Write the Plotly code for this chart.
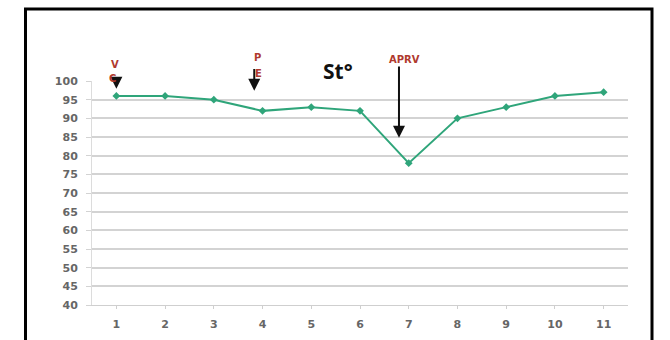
import plotly.graph_objects as go

# Readings over time
steps = [1, 2, 3, 4, 5, 6, 7, 8, 9, 10, 11]
saturation = [96, 96, 95, 92, 93, 92, 78, 90, 93, 96, 97]
y_ticks = list(range(40, 101, 5))

# Ventilation mode markers: label, step position
mode_labels = ["VC", "PE", "APRV"]
mode_steps = [1, 3.83, 6.8]

W, H = 670, 340
L, R, T, B = 92, 42, 81, 35
pw, ph = W - L - R, H - T - B

def px_x(p):
    return (p - L) / pw

def px_y(p):
    return (H - B - p) / ph

line_col = "#2fa57a"
grid_col = "#d3d3d3"
tick_font = dict(family="DejaVu Sans", size=11, color="#666666", weight="bold")
red = "#b0392e"
mode_font = dict(family="DejaVu Sans", size=10, color=red, weight="bold")

fig = go.Figure()
fig.add_trace(go.Scatter(
    x=steps, y=saturation, mode="lines+markers",
    line=dict(color=line_col, width=2),
    marker=dict(color=line_col, size=6, symbol="diamond"),
    showlegend=False, cliponaxis=False,
))

def label(text, xp, yp, font):
    return dict(text=text, x=px_x(xp), y=px_y(yp), xref="paper", yref="paper",
                showarrow=False, font=font)

def arrow(x, y_head, y_tail):
    return dict(text="", x=x, y=y_head, ax=x, ay=y_tail, xref="x", yref="y",
                axref="x", ayref="y", showarrow=True, arrowhead=2, arrowsize=1.2,
                arrowwidth=2, arrowcolor="#111")

annotations = [
    # arrows first so the mode letters sit on top
    arrow(mode_steps[0], 97.9, 101.0),
    arrow(mode_steps[1], 97.4, 103.6),
    arrow(mode_steps[2], 84.8, 104.3),
    label("St°", 338, 55, dict(family="Open Sans", size=21, color="#111", weight="bold")),
    label(mode_labels[0][0], 109, 57, mode_font),
    label(mode_labels[0][1], 107, 71, mode_font),
    label(mode_labels[1][0], 252, 50, mode_font),
    label(mode_labels[1][1], 253, 66, mode_font),
    label(mode_labels[2], 404, 52, mode_font),
]

fig.update_layout(
    width=W, height=H,
    margin=dict(l=L, r=R, t=T, b=B, autoexpand=False),
    paper_bgcolor="white", plot_bgcolor="white",
    annotations=annotations,
    shapes=[dict(type="rect", xref="paper", yref="paper",
                 x0=px_x(25.5), x1=px_x(652), y0=px_y(400), y1=px_y(9),
                 line=dict(color="#000", width=3), fillcolor="rgba(0,0,0,0)", layer="above")],
    xaxis=dict(
        range=[0.5, 11.5], tickmode="array", tickvals=steps, ticktext=[str(s) for s in steps],
        showgrid=False, zeroline=False, showline=True, linecolor="#cfcfcf", linewidth=1,
        ticks="outside", tickson="boundaries", ticklen=3, tickcolor="#cfcfcf",
        tickfont=tick_font, ticklabelstandoff=6, automargin=False,
    ),
    yaxis=dict(
        range=[40, 100], tickmode="array", tickvals=y_ticks,
        showgrid=True, gridcolor=grid_col, gridwidth=1.5, zeroline=False,
        showline=True, linecolor="#dcdcdc", linewidth=1,
        ticks="outside", ticklen=5, tickcolor=grid_col,
        tickfont=tick_font, ticklabelstandoff=6, automargin=False,
    ),
)

fig.write_html("out.html")
